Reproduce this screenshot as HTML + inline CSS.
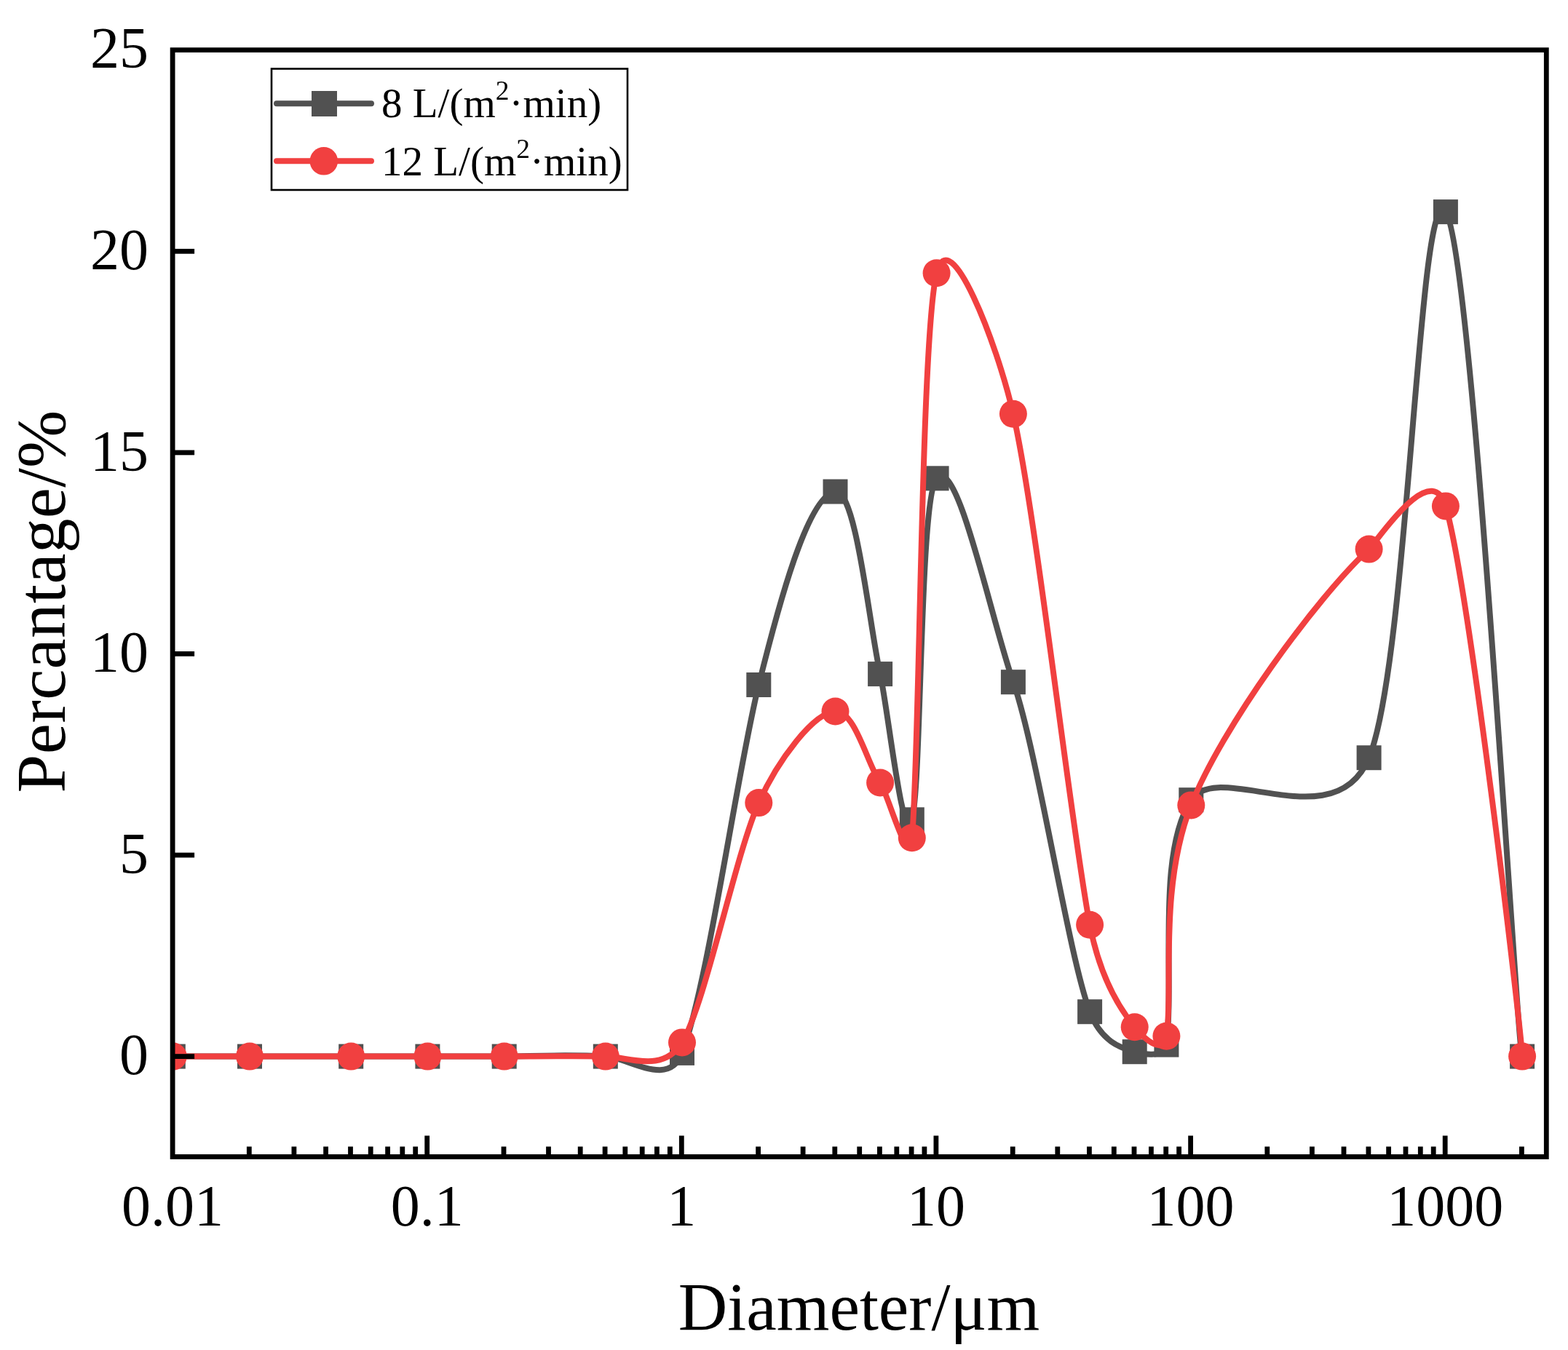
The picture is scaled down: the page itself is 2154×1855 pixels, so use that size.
<!DOCTYPE html>
<html lang="en"><head><meta charset="utf-8"><title>Particle size distribution</title>
<style>
html,body{margin:0;padding:0;background:#fff;}
body{width:2154px;height:1855px;overflow:hidden;}
svg{display:block;}
text{font-family:"Liberation Serif","Times New Roman",serif;fill:#000;}
.tk{font-size:80px;}
.ti{font-size:93.5px;}
.ty{font-size:95px;letter-spacing:0.3px;}
.lg{font-size:57px;}
.ax{stroke:#000;stroke-width:6.8;fill:none;}
</style></head><body>
<svg width="2154" height="1855" viewBox="0 0 2154 1855">
<rect x="0" y="0" width="2154" height="1855" fill="#fff"/>

<defs><clipPath id="plotclip"><rect x="237.1" y="68.7" width="1887.2" height="1520.8"/></clipPath></defs>
<g clip-path="url(#plotclip)">
<path d="M237.8,1451.6 C237.8,1451.6 310.8,1451.6 343.0,1451.6 C378.1,1451.6 447.2,1451.6 482.2,1451.6 C514.4,1451.6 558.5,1451.6 587.4,1451.6 C616.4,1451.6 660.5,1451.6 692.7,1451.6 C727.7,1451.6 771.9,1448.5 831.8,1451.6 C864.7,1453.3 918.4,1495.5 937.0,1446.9 C972.4,1354.5 1012.0,1063.0 1042.3,941.0 C1068.4,835.9 1109.5,679.9 1147.5,675.5 C1176.2,672.2 1194.0,858.5 1209.1,926.1 C1220.1,975.4 1240.7,1170.7 1252.8,1126.3 C1266.3,1076.6 1263.1,684.2 1286.6,657.3 C1315.4,624.4 1361.1,849.6 1391.9,937.2 C1425.4,1032.6 1466.9,1309.8 1497.1,1390.2 C1514.1,1435.4 1545.6,1441.1 1558.7,1445.2 C1566.2,1447.6 1600.1,1455.2 1602.4,1435.6 C1613.6,1340.3 1588.5,1172.5 1636.3,1099.2 C1673.3,1042.4 1833.6,1154.9 1880.6,1041.2 C1935.1,909.5 1948.7,239.4 1985.9,291.1 C2024.0,344.0 2084.5,1451.6 2091.1,1451.6" fill="none" stroke="#515151" stroke-width="8" stroke-linejoin="round" stroke-linecap="round"/>
<rect x="220.8" y="1434.6" width="34" height="34" fill="#515151"/>
<rect x="326.0" y="1434.6" width="34" height="34" fill="#515151"/>
<rect x="465.2" y="1434.6" width="34" height="34" fill="#515151"/>
<rect x="570.4" y="1434.6" width="34" height="34" fill="#515151"/>
<rect x="675.7" y="1434.6" width="34" height="34" fill="#515151"/>
<rect x="814.8" y="1434.6" width="34" height="34" fill="#515151"/>
<rect x="920.0" y="1429.9" width="34" height="34" fill="#515151"/>
<rect x="1025.3" y="924.0" width="34" height="34" fill="#515151"/>
<rect x="1130.5" y="658.5" width="34" height="34" fill="#515151"/>
<rect x="1192.1" y="909.1" width="34" height="34" fill="#515151"/>
<rect x="1235.8" y="1109.3" width="34" height="34" fill="#515151"/>
<rect x="1269.6" y="640.3" width="34" height="34" fill="#515151"/>
<rect x="1374.9" y="920.2" width="34" height="34" fill="#515151"/>
<rect x="1480.1" y="1373.2" width="34" height="34" fill="#515151"/>
<rect x="1541.7" y="1428.2" width="34" height="34" fill="#515151"/>
<rect x="1585.4" y="1418.6" width="34" height="34" fill="#515151"/>
<rect x="1619.3" y="1082.2" width="34" height="34" fill="#515151"/>
<rect x="1863.6" y="1024.2" width="34" height="34" fill="#515151"/>
<rect x="1968.9" y="274.1" width="34" height="34" fill="#515151"/>
<rect x="2074.1" y="1434.6" width="34" height="34" fill="#515151"/>
<path d="M237.8,1451.6 C237.8,1451.6 310.8,1451.6 343.0,1451.6 C378.1,1451.6 447.2,1451.6 482.2,1451.6 C514.4,1451.6 558.5,1451.6 587.4,1451.6 C616.4,1451.6 660.5,1451.6 692.7,1451.6 C727.7,1451.6 796.8,1450.9 831.8,1451.6 C863.7,1452.2 911.1,1475.2 937.0,1432.4 C968.6,1380.3 1010.0,1175.5 1042.3,1103.1 C1068.2,1045.0 1117.5,979.2 1147.5,977.5 C1174.6,976.1 1191.6,1050.2 1209.1,1075.5 C1220.4,1091.7 1248.4,1198.2 1252.8,1151.2 C1263.7,1032.9 1264.8,467.3 1286.6,375.2 C1303.9,302.3 1369.6,471.1 1391.9,568.8 C1423.9,709.2 1471.4,1137.8 1497.1,1270.7 C1512.9,1352.4 1544.8,1394.2 1558.7,1411.2 C1571.0,1426.2 1597.5,1451.7 1602.4,1423.7 C1612.4,1366.3 1590.7,1222.7 1636.3,1106.4 C1677.6,1000.8 1808.0,821.9 1880.6,754.6 C1890.7,745.2 1966.2,628.4 1985.9,695.4 C2019.4,809.6 2093.7,1451.6 2091.1,1451.6" fill="none" stroke="#f14040" stroke-width="8" stroke-linejoin="round" stroke-linecap="round"/>
<circle cx="237.8" cy="1451.6" r="19" fill="#f14040"/>
<circle cx="343.0" cy="1451.6" r="19" fill="#f14040"/>
<circle cx="482.2" cy="1451.6" r="19" fill="#f14040"/>
<circle cx="587.4" cy="1451.6" r="19" fill="#f14040"/>
<circle cx="692.7" cy="1451.6" r="19" fill="#f14040"/>
<circle cx="831.8" cy="1451.6" r="19" fill="#f14040"/>
<circle cx="937.0" cy="1432.4" r="19" fill="#f14040"/>
<circle cx="1042.3" cy="1103.1" r="19" fill="#f14040"/>
<circle cx="1147.5" cy="977.5" r="19" fill="#f14040"/>
<circle cx="1209.1" cy="1075.5" r="19" fill="#f14040"/>
<circle cx="1252.8" cy="1151.2" r="19" fill="#f14040"/>
<circle cx="1286.6" cy="375.2" r="19" fill="#f14040"/>
<circle cx="1391.9" cy="568.8" r="19" fill="#f14040"/>
<circle cx="1497.1" cy="1270.7" r="19" fill="#f14040"/>
<circle cx="1558.7" cy="1411.2" r="19" fill="#f14040"/>
<circle cx="1602.4" cy="1423.7" r="19" fill="#f14040"/>
<circle cx="1636.3" cy="1106.4" r="19" fill="#f14040"/>
<circle cx="1880.6" cy="754.6" r="19" fill="#f14040"/>
<circle cx="1985.9" cy="695.4" r="19" fill="#f14040"/>
<circle cx="2091.1" cy="1451.6" r="19" fill="#f14040"/>
</g>
<g class="ax">
<line x1="237.1" y1="1451.6" x2="267.1" y2="1451.6"/>
<line x1="237.1" y1="1175.0" x2="267.1" y2="1175.0"/>
<line x1="237.1" y1="898.4" x2="267.1" y2="898.4"/>
<line x1="237.1" y1="621.9" x2="267.1" y2="621.9"/>
<line x1="237.1" y1="345.3" x2="267.1" y2="345.3"/>
<line x1="342.3" y1="1589.5" x2="342.3" y2="1575.5"/>
<line x1="403.9" y1="1589.5" x2="403.9" y2="1575.5"/>
<line x1="447.6" y1="1589.5" x2="447.6" y2="1575.5"/>
<line x1="481.5" y1="1589.5" x2="481.5" y2="1575.5"/>
<line x1="509.2" y1="1589.5" x2="509.2" y2="1575.5"/>
<line x1="532.6" y1="1589.5" x2="532.6" y2="1575.5"/>
<line x1="552.8" y1="1589.5" x2="552.8" y2="1575.5"/>
<line x1="570.7" y1="1589.5" x2="570.7" y2="1575.5"/>
<line x1="586.7" y1="1589.5" x2="586.7" y2="1560.5"/>
<line x1="692.0" y1="1589.5" x2="692.0" y2="1575.5"/>
<line x1="753.5" y1="1589.5" x2="753.5" y2="1575.5"/>
<line x1="797.2" y1="1589.5" x2="797.2" y2="1575.5"/>
<line x1="831.1" y1="1589.5" x2="831.1" y2="1575.5"/>
<line x1="858.8" y1="1589.5" x2="858.8" y2="1575.5"/>
<line x1="882.2" y1="1589.5" x2="882.2" y2="1575.5"/>
<line x1="902.4" y1="1589.5" x2="902.4" y2="1575.5"/>
<line x1="920.3" y1="1589.5" x2="920.3" y2="1575.5"/>
<line x1="936.3" y1="1589.5" x2="936.3" y2="1560.5"/>
<line x1="1041.6" y1="1589.5" x2="1041.6" y2="1575.5"/>
<line x1="1103.1" y1="1589.5" x2="1103.1" y2="1575.5"/>
<line x1="1146.8" y1="1589.5" x2="1146.8" y2="1575.5"/>
<line x1="1180.7" y1="1589.5" x2="1180.7" y2="1575.5"/>
<line x1="1208.4" y1="1589.5" x2="1208.4" y2="1575.5"/>
<line x1="1231.8" y1="1589.5" x2="1231.8" y2="1575.5"/>
<line x1="1252.1" y1="1589.5" x2="1252.1" y2="1575.5"/>
<line x1="1269.9" y1="1589.5" x2="1269.9" y2="1575.5"/>
<line x1="1285.9" y1="1589.5" x2="1285.9" y2="1560.5"/>
<line x1="1391.2" y1="1589.5" x2="1391.2" y2="1575.5"/>
<line x1="1452.8" y1="1589.5" x2="1452.8" y2="1575.5"/>
<line x1="1496.4" y1="1589.5" x2="1496.4" y2="1575.5"/>
<line x1="1530.3" y1="1589.5" x2="1530.3" y2="1575.5"/>
<line x1="1558.0" y1="1589.5" x2="1558.0" y2="1575.5"/>
<line x1="1581.4" y1="1589.5" x2="1581.4" y2="1575.5"/>
<line x1="1601.7" y1="1589.5" x2="1601.7" y2="1575.5"/>
<line x1="1619.6" y1="1589.5" x2="1619.6" y2="1575.5"/>
<line x1="1635.6" y1="1589.5" x2="1635.6" y2="1560.5"/>
<line x1="1740.8" y1="1589.5" x2="1740.8" y2="1575.5"/>
<line x1="1802.4" y1="1589.5" x2="1802.4" y2="1575.5"/>
<line x1="1846.0" y1="1589.5" x2="1846.0" y2="1575.5"/>
<line x1="1879.9" y1="1589.5" x2="1879.9" y2="1575.5"/>
<line x1="1907.6" y1="1589.5" x2="1907.6" y2="1575.5"/>
<line x1="1931.0" y1="1589.5" x2="1931.0" y2="1575.5"/>
<line x1="1951.3" y1="1589.5" x2="1951.3" y2="1575.5"/>
<line x1="1969.2" y1="1589.5" x2="1969.2" y2="1575.5"/>
<line x1="1985.2" y1="1589.5" x2="1985.2" y2="1560.5"/>
<line x1="2090.4" y1="1589.5" x2="2090.4" y2="1575.5"/>
</g>
<rect class="ax" x="237.1" y="68.7" width="1887.2" height="1520.8"/>
<text class="tk" x="204" y="1476.2" text-anchor="end">0</text>
<text class="tk" x="204" y="1199.6" text-anchor="end">5</text>
<text class="tk" x="204" y="923.0" text-anchor="end">10</text>
<text class="tk" x="204" y="646.5" text-anchor="end">15</text>
<text class="tk" x="204" y="369.9" text-anchor="end">20</text>
<text class="tk" x="204" y="93.3" text-anchor="end">25</text>
<text class="tk" x="237.1" y="1684" text-anchor="middle">0.01</text>
<text class="tk" x="586.7" y="1684" text-anchor="middle">0.1</text>
<text class="tk" x="936.3" y="1684" text-anchor="middle">1</text>
<text class="tk" x="1285.9" y="1684" text-anchor="middle">10</text>
<text class="tk" x="1635.6" y="1684" text-anchor="middle">100</text>
<text class="tk" x="1985.2" y="1684" text-anchor="middle">1000</text>
<text class="ti" x="1180" y="1827" text-anchor="middle">Diameter/μm</text>
<text class="ty" transform="translate(88.8,826.5) rotate(-90)" text-anchor="middle">Percantage/%</text>
<rect x="373" y="94.5" width="489" height="166.5" fill="#fff" stroke="#000" stroke-width="2.6"/>
<line x1="380" y1="142.3" x2="510" y2="142.3" stroke="#515151" stroke-width="8" stroke-linecap="round"/>
<rect x="428" y="125" width="35" height="35" fill="#515151"/>
<line x1="380" y1="221.2" x2="510" y2="221.2" stroke="#f14040" stroke-width="8" stroke-linecap="round"/>
<circle cx="444.8" cy="221.3" r="19.3" fill="#f14040"/>
<text class="lg" x="524" y="161">8 L/(m<tspan font-size="37.5" dy="-24">2</tspan><tspan dy="24">·min)</tspan></text>
<text class="lg" x="524" y="241.3">12 L/(m<tspan font-size="37.5" dy="-24">2</tspan><tspan dy="24">·min)</tspan></text>
</svg>
</body></html>
